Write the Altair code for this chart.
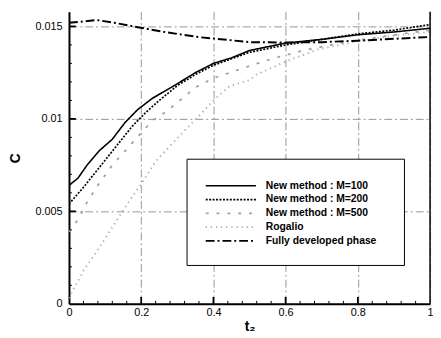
import altair as alt
import pandas as pd

# ---- data ----
series_names = ["New method : M=100", "New method : M=200", "New method : M=500",
                "Rogalio", "Fully developed phase"]

t_m100 = [0, 0.025, 0.05, 0.085, 0.12, 0.155, 0.19, 0.23, 0.3, 0.35, 0.4, 0.45, 0.5, 0.55, 0.6, 0.7, 0.8, 0.9, 1.0]
c_m100 = [0.0064, 0.0068, 0.0075, 0.0083, 0.0089, 0.0098, 0.0105, 0.0111, 0.0119, 0.0125, 0.0130, 0.0133,
          0.0137, 0.0139, 0.0141, 0.0143, 0.01455, 0.0147, 0.0149]

t_m200 = [0, 0.04, 0.085, 0.13, 0.175, 0.21, 0.25, 0.3, 0.35, 0.4, 0.5, 0.6, 0.7, 0.8, 0.9, 1.0]
c_m200 = [0.0054, 0.0063, 0.0074, 0.0085, 0.0096, 0.0103, 0.0110, 0.0118, 0.0124, 0.0129, 0.0136,
          0.0140, 0.0143, 0.0146, 0.0148, 0.0151]

t_m500 = [0, 0.027, 0.05, 0.076, 0.12, 0.18, 0.23, 0.27, 0.35, 0.4, 0.49, 0.57, 0.65, 0.75, 0.85, 1.0]
c_m500 = [0.0039, 0.0046, 0.0055, 0.0063, 0.0075, 0.0088, 0.0099, 0.0104, 0.0117, 0.0122, 0.0128,
          0.0133, 0.0137, 0.0141, 0.0144, 0.0148]

t_rog = [0, 0.014, 0.03, 0.04, 0.076, 0.112, 0.158, 0.204, 0.24, 0.302, 0.357, 0.4, 0.444, 0.5, 0.52,
         0.6, 0.69, 0.8, 0.9, 1.0]
c_rog = [0.0003, 0.00086, 0.0014, 0.0018, 0.0028, 0.0039, 0.0053, 0.0066, 0.0077, 0.0090, 0.0101,
         0.0110, 0.01176, 0.0121, 0.0124, 0.0131, 0.01376, 0.0142, 0.0145, 0.0147]

t_full = [0, 0.03, 0.076, 0.13, 0.19, 0.27, 0.36, 0.4, 0.5, 0.6, 0.7, 0.8, 0.9, 1.0]
c_full = [0.0152, 0.01525, 0.01535, 0.01518, 0.01496, 0.01468, 0.01442, 0.01435, 0.01415, 0.01413,
          0.01415, 0.01423, 0.01433, 0.01443]

x_tick_values = [0, 0.2, 0.4, 0.6, 0.8, 1]
y_tick_values = [0, 0.005, 0.01, 0.015]
x_major_ticks = [0.2, 0.4, 0.6, 0.8]
x_minor_ticks = [round(i * 0.04, 2) for i in range(1, 25) if i % 5 != 0]
y_major_ticks = [0.005, 0.01, 0.015]
y_minor_ticks = [round(i * 0.001, 3) for i in range(1, 16) if i % 5 != 0]

# ---- styles ----
series_colors = ["#000000", "#000000", "#a0a0a0", "#a8a8a8", "#000000"]
series_dash = [[1, 0], [2, 1.5], [3, 8], [1.2, 4], [9, 3, 2, 3]]
series_width = [1.6, 2.0, 1.0, 1.0, 2.0]

rows = []
for name, ts, cs in zip(series_names,
                        [t_m100, t_m200, t_m500, t_rog, t_full],
                        [c_m100, c_m200, c_m500, c_rog, c_full]):
    for t, c in zip(ts, cs):
        rows.append({"series": name, "t": t, "C": c})
df = pd.DataFrame(rows)

W, H = 367, 297
FONT = "Liberation Sans"

x_scale = alt.Scale(domain=[0, 1], nice=False, zero=False)
y_scale = alt.Scale(domain=[0, 0.0158], nice=False, zero=False)
color_scale = alt.Scale(domain=series_names, range=series_colors)
dash_scale = alt.Scale(domain=series_names, range=series_dash)
width_scale = alt.Scale(domain=series_names, range=series_width)

lines = alt.Chart(df).mark_line(clip=True).encode(
    x=alt.X("t:Q", scale=x_scale,
            axis=alt.Axis(values=x_tick_values, labelExpr="datum.value", title="t₂",
                          grid=True, gridDash=[8, 3, 2, 3], gridColor="#7a7a7a", gridWidth=0.8,
                          ticks=False, tickSize=0, domainWidth=2, domainColor="black",
                          labelPadding=3, titlePadding=2, labelFlush=False)),
    y=alt.Y("C:Q", scale=y_scale,
            axis=alt.Axis(values=y_tick_values, labelExpr="datum.value", title="C",
                          grid=True, gridDash=[8, 3, 2, 3], gridColor="#7a7a7a", gridWidth=0.8,
                          ticks=False, tickSize=0, domainWidth=2, domainColor="black",
                          labelPadding=7, titlePadding=13)),
    color=alt.Color("series:N", scale=color_scale, legend=None),
    strokeDash=alt.StrokeDash("series:N", scale=dash_scale, legend=None),
    strokeWidth=alt.StrokeWidth("series:N", scale=width_scale, legend=None),
)

def xticks(vals, length, width):
    return alt.Chart(pd.DataFrame({"t": vals})).mark_rule(color="black", strokeWidth=width).encode(
        x=alt.X("t:Q", scale=x_scale),
        y=alt.value(H), y2=alt.value(H - length))

def yticks(vals, length, width):
    return alt.Chart(pd.DataFrame({"C": vals})).mark_rule(color="black", strokeWidth=width).encode(
        y=alt.Y("C:Q", scale=y_scale),
        x=alt.value(0), x2=alt.value(length))

border = alt.Chart(pd.DataFrame({"t": [1]})).mark_rule(color="black", strokeWidth=1.5).encode(
    x=alt.X("t:Q", scale=x_scale))

main = alt.layer(
    lines,
    xticks(x_major_ticks, 7, 1.8), xticks(x_minor_ticks, 3, 1),
    yticks(y_major_ticks, 7, 1.8), yticks(y_minor_ticks, 3, 1),
    border,
)

# ---- legend drawn by hand ----
leg_df = pd.DataFrame({"series": series_names})
row_scale = alt.Scale(type="point", domain=series_names, range=[177, 233], padding=0)

leg_box = alt.Chart(pd.DataFrame({"a": [0]})).mark_rect(
    fill="white", stroke="black", strokeWidth=1).encode(
    x=alt.value(120), x2=alt.value(341), y=alt.value(150), y2=alt.value(258))

leg_lines = alt.Chart(leg_df).mark_rule().encode(
    y=alt.Y("series:N", scale=row_scale, axis=None),
    x=alt.value(139), x2=alt.value(190),
    color=alt.Color("series:N", scale=color_scale, legend=None),
    strokeDash=alt.StrokeDash("series:N", scale=dash_scale, legend=None),
    strokeWidth=alt.StrokeWidth("series:N", scale=width_scale, legend=None),
)

leg_text = alt.Chart(leg_df).mark_text(
    align="left", baseline="middle", font=FONT, fontSize=10.5, fontWeight="bold", color="black").encode(
    y=alt.Y("series:N", scale=row_scale, axis=None),
    x=alt.value(200),
    text="series:N",
)

legend = alt.layer(leg_box, leg_lines, leg_text)

chart = alt.layer(main, legend).resolve_scale(y="independent").properties(
    width=W, height=H,
    padding={"left": 62, "top": 1, "right": 3, "bottom": 30},
    autosize=alt.AutoSizeParams(type="none"),
).configure_view(stroke=None).configure_axis(
    labelFont=FONT, labelFontSize=11, labelColor="black",
    titleFont=FONT, titleFontSize=14, titleFontWeight="bold", titleColor="black",
)

chart.save("out.html", embed_options={"renderer": "svg", "actions": False})
